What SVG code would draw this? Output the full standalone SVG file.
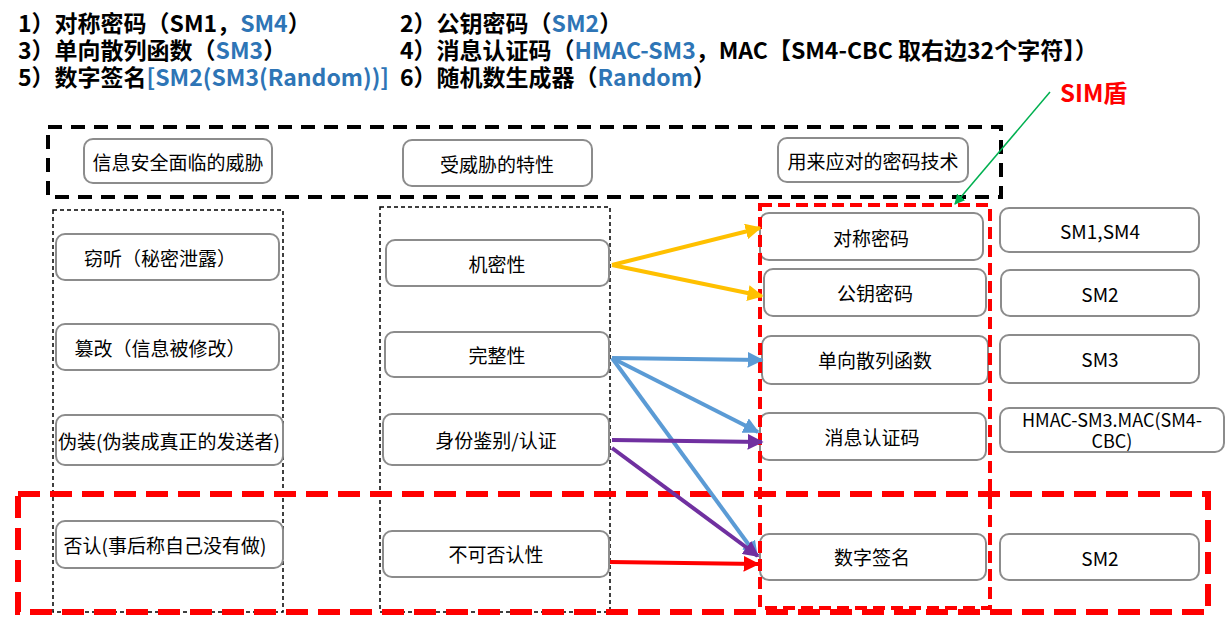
<svg xmlns="http://www.w3.org/2000/svg" width="1227" height="637" viewBox="0 0 1227 637">
<style>
.hd{font-family:"Noto Sans CJK SC","Noto Sans",sans-serif;font-size:23px;font-weight:bold;fill:#000}
.bl{fill:#2E75B6}
.nd rect{fill:#fff;stroke:#8C8C8C;stroke-width:2}
.nd text{font-family:"Noto Sans CJK SC","Noto Sans",sans-serif;font-size:19px;fill:#000;text-anchor:middle;dominant-baseline:central}
.nd text.sm{font-size:18px}
.col{fill:none;stroke:#000;stroke-width:1.5;stroke-dasharray:4 3}
.blk{fill:none;stroke:#000;stroke-width:4;stroke-dasharray:14 9}
.rd1{fill:none;stroke:#FF0000;stroke-width:4;stroke-dasharray:12 6}
.rd2{fill:none;stroke:#FF0000;stroke-width:6;stroke-dasharray:22 10}
.cn{fill:none;stroke-width:4}
</style>
<defs>
<marker id="aY" viewBox="0 0 10 10" refX="9" refY="5" markerWidth="4" markerHeight="4" orient="auto"><path d="M0,0L10,5L0,10z" fill="#FFC000"/></marker>
<marker id="aB" viewBox="0 0 10 10" refX="9" refY="5" markerWidth="4" markerHeight="4" orient="auto"><path d="M0,0L10,5L0,10z" fill="#5B9BD5"/></marker>
<marker id="aP" viewBox="0 0 10 10" refX="9" refY="5" markerWidth="4" markerHeight="4" orient="auto"><path d="M0,0L10,5L0,10z" fill="#7030A0"/></marker>
<marker id="aR" viewBox="0 0 10 10" refX="9" refY="5" markerWidth="4" markerHeight="4" orient="auto"><path d="M0,0L10,5L0,10z" fill="#FF0000"/></marker>
<marker id="aG" viewBox="0 0 10 10" refX="9" refY="5" markerWidth="7" markerHeight="7" orient="auto"><path d="M0,0L10,5L0,10z" fill="#00B050"/></marker>
</defs>
<rect width="1227" height="637" fill="#fff"/>
<g id="header">
<text class="hd" x="18" y="32">1）对称密码（SM1，<tspan class="bl">SM4</tspan>）</text>
<text class="hd" x="400" y="32">2）公钥密码（<tspan class="bl">SM2</tspan>）</text>
<text class="hd" x="18" y="59">3）单向散列函数（<tspan class="bl">SM3</tspan>）</text>
<text class="hd" x="400" y="59">4）消息认证码（<tspan class="bl">HMAC-SM3</tspan>，MAC【SM4-CBC 取右边32个字符】）</text>
<text class="hd" x="18" y="86">5）数字签名<tspan class="bl">[SM2(SM3(Random))]</tspan></text>
<text class="hd" x="400" y="86">6）随机数生成器（<tspan class="bl">Random</tspan>）</text>
</g>
<g id="frames">
<rect class="blk" x="48" y="127" width="953" height="70"/>
<rect class="col" x="53" y="210" width="230" height="402"/>
<rect class="col" x="380" y="207" width="230" height="405"/>
</g>
<g id="n-threat-title" class="nd"><rect x="84" y="139" width="188" height="44" rx="9"/><text x="178" y="161">信息安全面临的威胁</text></g>
<g id="n-prop-title" class="nd"><rect x="403" y="140" width="189" height="46" rx="9"/><text x="497" y="163">受威胁的特性</text></g>
<g id="n-tech-title" class="nd"><rect x="778" y="138" width="190" height="44" rx="9"/><text x="873" y="160">用来应对的密码技术</text></g>
<g id="n-eaves" class="nd"><rect x="56" y="234" width="223" height="46" rx="9"/><text x="160" y="257">窃听（秘密泄露）</text></g>
<g id="n-tamper" class="nd"><rect x="56" y="324" width="223" height="46" rx="9"/><text x="160" y="347">篡改（信息被修改）</text></g>
<g id="n-spoof" class="nd"><rect x="56" y="415" width="227" height="50" rx="9"/><text x="169" y="440">伪装(伪装成真正的发送者)</text></g>
<g id="n-deny" class="nd"><rect x="56" y="521" width="227" height="47" rx="9"/><text x="165" y="544">否认(事后称自己没有做)</text></g>
<g id="n-conf" class="nd"><rect x="386" y="240" width="223" height="46" rx="9"/><text x="497" y="263">机密性</text></g>
<g id="n-integ" class="nd"><rect x="385" y="332" width="224" height="45" rx="9"/><text x="497" y="354">完整性</text></g>
<g id="n-auth" class="nd"><rect x="383" y="414" width="226" height="51" rx="9"/><text x="496" y="439">身份鉴别/认证</text></g>
<g id="n-nonrep" class="nd"><rect x="383" y="531" width="226" height="46" rx="9"/><text x="496" y="553">不可否认性</text></g>
<g id="n-sym" class="nd"><rect x="760" y="213" width="223" height="47" rx="9"/><text x="871" y="237">对称密码</text></g>
<g id="n-pub" class="nd"><rect x="764" y="269" width="222" height="47" rx="9"/><text x="875" y="292">公钥密码</text></g>
<g id="n-hash" class="nd"><rect x="762" y="336" width="226" height="48" rx="9"/><text x="875" y="359">单向散列函数</text></g>
<g id="n-mac" class="nd"><rect x="760" y="413" width="226" height="47" rx="9"/><text x="872" y="436">消息认证码</text></g>
<g id="n-sig" class="nd"><rect x="760" y="534" width="226" height="46" rx="9"/><text x="872" y="556">数字签名</text></g>
<g id="n-sm14" class="nd"><rect x="1000" y="208" width="199" height="44" rx="9"/><text x="1100" y="230">SM1,SM4</text></g>
<g id="n-sm2a" class="nd"><rect x="1001" y="270" width="198" height="46" rx="9"/><text x="1100" y="293">SM2</text></g>
<g id="n-sm3" class="nd"><rect x="1000" y="335" width="199" height="48" rx="9"/><text x="1100" y="358">SM3</text></g>
<g id="n-hmac" class="nd"><rect x="1000" y="408" width="224" height="44" rx="9"/><text class="sm" x="1112" y="419">HMAC-SM3.MAC(SM4-</text><text class="sm" x="1112" y="440">CBC)</text></g>
<g id="n-sm2b" class="nd"><rect x="1000" y="534" width="199" height="46" rx="9"/><text x="1100" y="557">SM2</text></g>
<g id="redframes">
<rect class="rd1" x="760" y="205" width="230" height="403"/>
<rect class="rd2" x="18" y="494" width="1190" height="118"/>
</g>
<g id="connectors">
<line class="cn" x1="612" y1="265" x2="760" y2="228" stroke="#FFC000" marker-end="url(#aY)"/>
<line class="cn" x1="612" y1="265" x2="762" y2="296" stroke="#FFC000" marker-end="url(#aY)"/>
<line class="cn" x1="612" y1="358" x2="762" y2="360" stroke="#5B9BD5" marker-end="url(#aB)"/>
<line class="cn" x1="612" y1="358" x2="758" y2="432" stroke="#5B9BD5" marker-end="url(#aB)"/>
<line class="cn" x1="612" y1="358" x2="757" y2="556" stroke="#5B9BD5" marker-end="url(#aB)"/>
<line class="cn" x1="612" y1="440" x2="762" y2="442" stroke="#7030A0" marker-end="url(#aP)"/>
<line class="cn" x1="612" y1="448" x2="758" y2="556" stroke="#7030A0" marker-end="url(#aP)"/>
<line class="cn" x1="610" y1="562" x2="758" y2="564" stroke="#FF0000" marker-end="url(#aR)"/>
<line x1="1050" y1="92" x2="955" y2="204" stroke="#00B050" stroke-width="1.5" marker-end="url(#aG)"/>
</g>
<text id="sim" x="1060" y="102" font-family="Noto Sans CJK SC, Noto Sans, sans-serif" font-size="24" font-weight="bold" fill="#FF0000">SIM盾</text>
</svg>
